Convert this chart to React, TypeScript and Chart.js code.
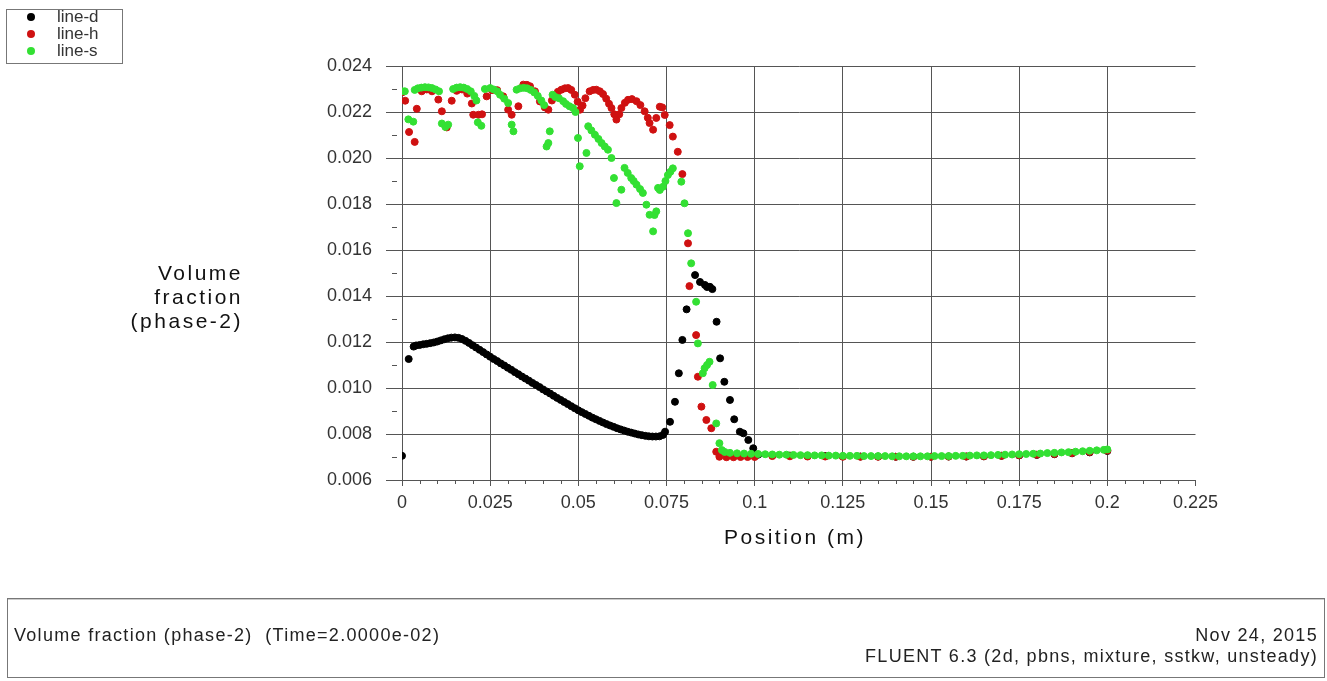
import React, { useEffect, useRef } from "react";
import { Chart, registerables } from "chart.js";

Chart.register(...registerables);

const FONT = "'Liberation Sans', Arial, Helvetica, sans-serif";

const xTickValues = [0, 0.025, 0.05, 0.075, 0.1, 0.125, 0.15, 0.175, 0.2, 0.225];
const xTickLabels = ["0", "0.025", "0.05", "0.075", "0.1", "0.125", "0.15", "0.175", "0.2", "0.225"];
const yTickValues = [0.006, 0.008, 0.01, 0.012, 0.014, 0.016, 0.018, 0.02, 0.022, 0.024];
const yTickLabels = ["0.006", "0.008", "0.010", "0.012", "0.014", "0.016", "0.018", "0.020", "0.022", "0.024"];
const xMinorTicks = [0.005, 0.01, 0.015, 0.02, 0.03, 0.035, 0.04, 0.045, 0.055, 0.06, 0.065, 0.07, 0.08, 0.085, 0.09, 0.095, 0.105, 0.11, 0.115, 0.12, 0.13, 0.135, 0.14, 0.145, 0.155, 0.16, 0.165, 0.17, 0.18, 0.185, 0.19, 0.195, 0.205, 0.21, 0.215, 0.22];
const yMinorTicks = [0.007, 0.009, 0.011, 0.013, 0.015, 0.017, 0.019, 0.021, 0.023];

// line-d (black)
const lineDX = [0, 0.0019, 0.0033, 0.004, 0.005, 0.006, 0.007, 0.008, 0.009, 0.01, 0.011, 0.012, 0.013, 0.014, 0.015, 0.016, 0.017, 0.018, 0.019, 0.02, 0.021, 0.022, 0.023, 0.024, 0.025, 0.026, 0.027, 0.028, 0.029, 0.03, 0.031, 0.032, 0.033, 0.034, 0.035, 0.036, 0.037, 0.038, 0.039, 0.04, 0.041, 0.042, 0.043, 0.044, 0.045, 0.046, 0.047, 0.048, 0.049, 0.05, 0.051, 0.052, 0.053, 0.054, 0.055, 0.056, 0.057, 0.058, 0.059, 0.06, 0.061, 0.062, 0.063, 0.064, 0.065, 0.066, 0.067, 0.068, 0.069, 0.07, 0.071, 0.072, 0.073, 0.074, 0.0746, 0.076, 0.0774, 0.0785, 0.0795, 0.0807, 0.0831, 0.0845, 0.0859, 0.0865, 0.0873, 0.088, 0.0892, 0.0902, 0.0914, 0.093, 0.0942, 0.0958, 0.0968, 0.0982, 0.0996, 0.101, 0.105, 0.11, 0.115, 0.12, 0.125, 0.13, 0.135, 0.14, 0.145, 0.15, 0.155, 0.16, 0.165, 0.17, 0.175, 0.18, 0.185, 0.19, 0.195, 0.2];
const lineDY = [0.00705, 0.01126, 0.0118, 0.01185, 0.01187, 0.0119, 0.01192, 0.01195, 0.01198, 0.01202, 0.01207, 0.01212, 0.01216, 0.01219, 0.0122, 0.01218, 0.01213, 0.01205, 0.01196, 0.01186, 0.01176, 0.01166, 0.01156, 0.01146, 0.01136, 0.01126, 0.01117, 0.01107, 0.01098, 0.01088, 0.01079, 0.01069, 0.0106, 0.0105, 0.01041, 0.01032, 0.01022, 0.01013, 0.01004, 0.00994, 0.00985, 0.00976, 0.00966, 0.00957, 0.00948, 0.00939, 0.0093, 0.00921, 0.00912, 0.00903, 0.00895, 0.00887, 0.00879, 0.00871, 0.00864, 0.00857, 0.0085, 0.00843, 0.00837, 0.00831, 0.00825, 0.0082, 0.00815, 0.0081, 0.00806, 0.00802, 0.00798, 0.00795, 0.00792, 0.0079, 0.00789, 0.00789, 0.0079, 0.00796, 0.0081, 0.00853, 0.0094, 0.01064, 0.01209, 0.01342, 0.01491, 0.01461, 0.01448, 0.01439, 0.0144, 0.0143, 0.01288, 0.01129, 0.01027, 0.00948, 0.00864, 0.0081, 0.00803, 0.00774, 0.00738, 0.0071, 0.00708, 0.00706, 0.00705, 0.00704, 0.00703, 0.00702, 0.00702, 0.00701, 0.00701, 0.00701, 0.00702, 0.00702, 0.00703, 0.00705, 0.00707, 0.00709, 0.00712, 0.00716, 0.0072, 0.00726];

// line-h (red)
const lineHX = [0, 0.0009, 0.002, 0.0036, 0.0042, 0.0056, 0.007, 0.0085, 0.0103, 0.0113, 0.0127, 0.0141, 0.0155, 0.017, 0.0185, 0.0198, 0.0202, 0.0217, 0.0227, 0.024, 0.0255, 0.027, 0.0287, 0.0301, 0.0311, 0.033, 0.0344, 0.0354, 0.0363, 0.0377, 0.0391, 0.0405, 0.0415, 0.0425, 0.0433, 0.0442, 0.0452, 0.0462, 0.0471, 0.048, 0.049, 0.0498, 0.0505, 0.0512, 0.052, 0.0532, 0.0542, 0.0551, 0.0561, 0.057, 0.0579, 0.0587, 0.0594, 0.0602, 0.0608, 0.0616, 0.0622, 0.0632, 0.0641, 0.0652, 0.0665, 0.0676, 0.0688, 0.0697, 0.0702, 0.0712, 0.0721, 0.0731, 0.0738, 0.0745, 0.0759, 0.0768, 0.0782, 0.0795, 0.0811, 0.0815, 0.0834, 0.0839, 0.0849, 0.0863, 0.0877, 0.0891, 0.09, 0.092, 0.094, 0.096, 0.098, 0.1, 0.105, 0.11, 0.115, 0.12, 0.125, 0.13, 0.135, 0.14, 0.145, 0.15, 0.155, 0.16, 0.165, 0.17, 0.175, 0.18, 0.185, 0.19, 0.195, 0.2];
const lineHY = [0.02285, 0.02249, 0.02113, 0.0207, 0.02214, 0.0229, 0.02298, 0.0229, 0.02254, 0.02203, 0.02133, 0.02249, 0.02292, 0.02298, 0.0228, 0.02237, 0.02188, 0.02188, 0.0219, 0.02268, 0.02295, 0.02295, 0.02268, 0.0221, 0.02188, 0.02225, 0.02319, 0.02318, 0.02312, 0.0229, 0.02246, 0.0222, 0.0221, 0.0225, 0.0227, 0.02288, 0.02297, 0.02303, 0.02304, 0.02296, 0.02275, 0.02245, 0.0221, 0.02228, 0.0226, 0.0229, 0.02296, 0.02297, 0.0229, 0.02278, 0.02258, 0.02236, 0.02217, 0.0219, 0.02167, 0.0219, 0.02217, 0.0224, 0.02253, 0.02256, 0.02247, 0.0223, 0.02203, 0.02175, 0.02152, 0.02123, 0.02174, 0.02223, 0.0222, 0.02187, 0.02143, 0.02093, 0.02027, 0.0193, 0.01629, 0.01443, 0.0123, 0.01049, 0.00919, 0.00861, 0.00825, 0.00723, 0.00701, 0.00699, 0.00699, 0.007, 0.007, 0.007, 0.00704, 0.00703, 0.00702, 0.00702, 0.00701, 0.00701, 0.00701, 0.00701, 0.00701, 0.00701, 0.00702, 0.00702, 0.00703, 0.00705, 0.00708, 0.0071, 0.00713, 0.00717, 0.00722, 0.00728];

// line-s (green)
const lineSX = [0, 0.0008, 0.0018, 0.0032, 0.0036, 0.0045, 0.0055, 0.0065, 0.0075, 0.0085, 0.0095, 0.0105, 0.0113, 0.0123, 0.0131, 0.0145, 0.0155, 0.0165, 0.0175, 0.0185, 0.0195, 0.0205, 0.0211, 0.0215, 0.0225, 0.0235, 0.025, 0.026, 0.027, 0.0278, 0.029, 0.0301, 0.0311, 0.0316, 0.0325, 0.0335, 0.0345, 0.0355, 0.0365, 0.0375, 0.0385, 0.0395, 0.0403, 0.041, 0.0415, 0.0419, 0.0427, 0.0435, 0.0445, 0.0457, 0.0465, 0.0475, 0.0485, 0.0492, 0.0499, 0.0504, 0.0523, 0.0528, 0.0537, 0.0547, 0.0557, 0.0566, 0.0575, 0.0584, 0.0594, 0.0601, 0.0608, 0.0622, 0.0631, 0.064, 0.065, 0.0657, 0.0665, 0.0675, 0.0683, 0.0693, 0.0702, 0.0712, 0.0716, 0.0721, 0.0726, 0.0731, 0.074, 0.0747, 0.0754, 0.0761, 0.0768, 0.0792, 0.0801, 0.0811, 0.082, 0.0834, 0.0839, 0.0853, 0.0858, 0.0865, 0.0872, 0.0881, 0.0891, 0.09, 0.0907, 0.0915, 0.093, 0.095, 0.097, 0.099, 0.101, 0.103, 0.105, 0.107, 0.109, 0.111, 0.113, 0.115, 0.117, 0.119, 0.121, 0.123, 0.125, 0.127, 0.129, 0.131, 0.133, 0.135, 0.137, 0.139, 0.141, 0.143, 0.145, 0.147, 0.149, 0.151, 0.153, 0.155, 0.157, 0.159, 0.161, 0.163, 0.165, 0.167, 0.169, 0.171, 0.173, 0.175, 0.177, 0.179, 0.181, 0.183, 0.185, 0.187, 0.189, 0.191, 0.193, 0.195, 0.197, 0.199, 0.2];
const lineSY = [0.0229, 0.0229, 0.02168, 0.02158, 0.02296, 0.02303, 0.02306, 0.02308, 0.02307, 0.02304, 0.02298, 0.0229, 0.0215, 0.02135, 0.02145, 0.023, 0.02306, 0.02308, 0.02306, 0.023, 0.0229, 0.0227, 0.0225, 0.02155, 0.0214, 0.023, 0.02304, 0.02298, 0.0229, 0.02275, 0.02258, 0.02239, 0.02145, 0.02116, 0.02297, 0.02303, 0.02305, 0.02303, 0.02296, 0.02285, 0.0227, 0.0225, 0.0223, 0.0205, 0.02065, 0.02116, 0.02275, 0.02265, 0.0226, 0.02247, 0.02235, 0.02225, 0.02217, 0.022, 0.02087, 0.01964, 0.02022, 0.02138, 0.0212, 0.02101, 0.02083, 0.02065, 0.0205, 0.02036, 0.02, 0.01913, 0.01804, 0.01862, 0.01957, 0.01935, 0.01913, 0.019, 0.01884, 0.01865, 0.01848, 0.01797, 0.01753, 0.01681, 0.01752, 0.01768, 0.0187, 0.01861, 0.01875, 0.019, 0.01926, 0.0194, 0.01955, 0.01897, 0.01803, 0.01673, 0.01542, 0.01375, 0.01194, 0.01064, 0.01086, 0.011, 0.01114, 0.01013, 0.00846, 0.0076, 0.0073, 0.00722, 0.00718, 0.00716, 0.00715, 0.00714, 0.00713, 0.00712, 0.00711, 0.0071, 0.0071, 0.00709, 0.00708, 0.00708, 0.00707, 0.00707, 0.00706, 0.00706, 0.00705, 0.00705, 0.00705, 0.00704, 0.00704, 0.00704, 0.00704, 0.00703, 0.00703, 0.00703, 0.00703, 0.00703, 0.00703, 0.00704, 0.00704, 0.00704, 0.00705, 0.00705, 0.00706, 0.00707, 0.00707, 0.00708, 0.00709, 0.0071, 0.00711, 0.00712, 0.00713, 0.00714, 0.00715, 0.00717, 0.00718, 0.0072, 0.00721, 0.00723, 0.00725, 0.00727, 0.00729, 0.00731, 0.00733];

const seriesNames = ["line-d", "line-h", "line-s"];
const seriesColors = ["#000000", "#cf1111", "#33e033"];

const GRID = "#555555";

const minorTicksPlugin = {
  id: "minorTicks",
  afterDraw(chart: any) {
    const { ctx } = chart;
    const x = chart.scales.x;
    const y = chart.scales.y;
    ctx.save();
    ctx.strokeStyle = GRID;
    ctx.lineWidth = 1;
    for (const v of xMinorTicks) {
      const px = Math.round(x.getPixelForValue(v)) + 0.5;
      ctx.beginPath();
      ctx.moveTo(px, y.bottom);
      ctx.lineTo(px, y.bottom + 4);
      ctx.stroke();
    }
    for (const v of yMinorTicks) {
      const py = Math.round(y.getPixelForValue(v)) + 0.5;
      ctx.beginPath();
      ctx.moveTo(x.left - 10, py);
      ctx.lineTo(x.left - 5, py);
      ctx.stroke();
    }
    ctx.restore();
  },
};

export default function App() {
  const ref = useRef<HTMLCanvasElement>(null);

  useEffect(() => {
    const pts = (xs: number[], ys: number[]) => xs.map((x, i) => ({ x, y: ys[i] }));
    const mk = (i: number, xs: number[], ys: number[], order: number) => ({
      label: seriesNames[i],
      data: pts(xs, ys),
      backgroundColor: seriesColors[i],
      borderColor: seriesColors[i],
      pointRadius: 3.5,
      borderWidth: 1,
      showLine: false,
      order,
    });
    const chart = new Chart(ref.current as HTMLCanvasElement, {
      type: "scatter",
      data: {
        datasets: [
          mk(0, lineDX, lineDY, 3),
          mk(1, lineHX, lineHY, 2),
          mk(2, lineSX, lineSY, 1),
        ],
      },
      options: {
        responsive: false,
        animation: false,
        events: [],
        layout: { padding: { left: 300, right: 131.5, top: 66, bottom: 0 } },
        plugins: { legend: { display: false }, tooltip: { enabled: false }, title: { display: false } },
        scales: {
          x: {
            type: "linear",
            min: 0,
            max: 0.225,
            afterFit: (s: any) => {
              s.height = 201;
            },
            afterBuildTicks: (s: any) => {
              s.ticks = xTickValues.map((v) => ({ value: v }));
            },
            ticks: {
              callback: (_v: any, i: number) => xTickLabels[i],
              font: { family: FONT, size: 18 },
              color: "#333",
              padding: 6,
              maxRotation: 0,
              autoSkip: false,
            },
            grid: {
              color: (c: any) => (c.tick && c.tick.value > 0.22 ? "rgba(0,0,0,0)" : GRID),
              tickColor: GRID,
              tickLength: 6,
              lineWidth: 1,
            },
            border: { display: true, color: GRID, width: 1 },
          },
          y: {
            type: "linear",
            min: 0.006,
            max: 0.024,
            afterFit: (s: any) => {
              s.width = 102;
            },
            afterBuildTicks: (s: any) => {
              s.ticks = yTickValues.map((v) => ({ value: v }));
            },
            ticks: {
              callback: (_v: any, i: number) => yTickLabels[i],
              font: { family: FONT, size: 18 },
              color: "#333",
              padding: 14,
              autoSkip: false,
            },
            grid: {
              color: GRID,
              tickColor: GRID,
              tickLength: 16,
              lineWidth: 1,
            },
            border: { display: true, color: GRID, width: 1 },
          },
        },
      },
      plugins: [minorTicksPlugin],
    } as any);
    return () => chart.destroy();
  }, []);

  const titleStyle: React.CSSProperties = {
    position: "absolute",
    fontFamily: FONT,
    fontSize: 21,
    lineHeight: "24px",
    letterSpacing: "2.5px",
    color: "#111",
    whiteSpace: "pre",
  };

  return (
    <div style={{ position: "absolute", left: 0, top: 0, width: 1327, height: 681, background: "#fff", overflow: "hidden" }}>
      <canvas ref={ref} width={1327} height={681} style={{ position: "absolute", left: 0, top: 0 }} />
      {/* legend */}
      <div style={{ position: "absolute", left: 6, top: 9, width: 117, height: 55, border: "1px solid #777", boxSizing: "border-box", fontFamily: FONT }}>
        {seriesNames.map((n, i) => (
          <React.Fragment key={n}>
            <div style={{ position: "absolute", left: 20, top: 3 + i * 17, width: 8, height: 8, borderRadius: "50%", background: seriesColors[i] }} />
            <div style={{ position: "absolute", left: 50, top: -2 + i * 17, fontSize: 17, lineHeight: "18px", color: "#333" }}>{n}</div>
          </React.Fragment>
        ))}
      </div>
      {/* y title */}
      <div style={{ ...titleStyle, left: 40, width: 203, top: 261, textAlign: "right" }}>
        {"Volume\nfraction\n(phase-2)"}
      </div>
      {/* x title */}
      <div style={{ ...titleStyle, left: 645, width: 300, top: 525, textAlign: "center" }}>Position (m)</div>
      {/* footer */}
      <div style={{ position: "absolute", left: 7, top: 598, width: 1318, height: 80, border: "1px solid #777", boxShadow: "inset 0 1px 0 #ccc", boxSizing: "border-box", fontFamily: FONT, color: "#222", fontSize: 18 }}>
        <div style={{ position: "absolute", left: 6, top: 26, lineHeight: "21px", whiteSpace: "pre", letterSpacing: "1.3px" }}>
          {"Volume fraction (phase-2)  (Time=2.0000e-02)"}
        </div>
        <div style={{ position: "absolute", right: 6, top: 26, lineHeight: "21px", textAlign: "right", whiteSpace: "pre", letterSpacing: "1.3px" }}>
          {"Nov 24, 2015\nFLUENT 6.3 (2d, pbns, mixture, sstkw, unsteady)"}
        </div>
      </div>
    </div>
  );
}
